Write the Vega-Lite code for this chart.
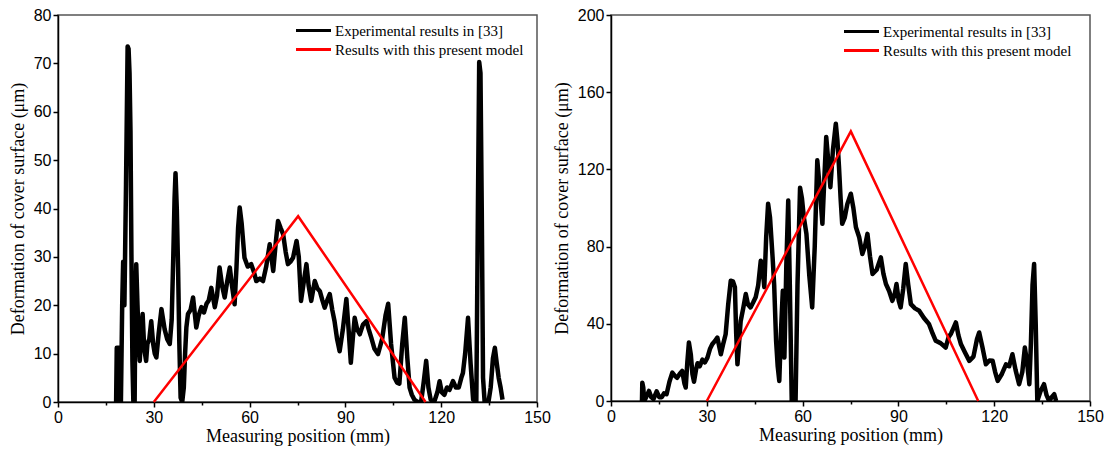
{
  "$schema": "https://vega.github.io/schema/vega-lite/v6.json",
  "padding": {"left": 8, "top": 6, "right": 5, "bottom": 5},
  "spacing": 0,
  "background": "white",
  "config": {
    "view": {"stroke": "#555", "strokeWidth": 1.5},
    "axis": {
      "labelFont": "Liberation Sans", "labelFontSize": 16, "labelColor": "#000",
      "titleFont": "Liberation Serif", "titleFontSize": 18, "titleFontWeight": "normal", "titleColor": "#000",
      "domainColor": "#000", "domainWidth": 1.5, "tickColor": "#000", "tickWidth": 1.5,
      "grid": false, "labelFlush": false, "labelOverlap": false, "labelPadding": 2
    },
    "legend": {
      "orient": "none", "title": null, "symbolType": "M-5,0H5", "symbolSize": 49, "symbolStrokeWidth": 3,
      "labelFont": "Liberation Serif", "labelFontSize": 15, "labelColor": "#000", "rowPadding": 3, "labelOffset": 14, "labelLimit": 0
    }
  },
  "datasets": {
    "exp1": [
      {"x":18.2,"y":0},{"x":18.4,"y":11.2},{"x":19.1,"y":11.2},{"x":19.3,"y":0},{"x":19.7,"y":0},{"x":20.1,"y":20},{"x":20.4,"y":29},{"x":20.8,"y":20},{"x":21.3,"y":45},{"x":21.8,"y":73.5},{"x":22.1,"y":73},{"x":22.4,"y":68},{"x":22.7,"y":56},{"x":23.0,"y":30},{"x":23.3,"y":8.5},{"x":23.6,"y":0},{"x":24.0,"y":0},{"x":24.2,"y":18},{"x":24.5,"y":28.5},{"x":24.9,"y":20},{"x":25.3,"y":12},{"x":25.6,"y":8.5},{"x":26.0,"y":14},{"x":26.5,"y":18.2},{"x":27.0,"y":11},{"x":27.6,"y":8.5},{"x":28.0,"y":12},{"x":28.6,"y":13},{"x":29.2,"y":16.7},{"x":29.8,"y":12},{"x":30.3,"y":10},{"x":30.8,"y":9.2},{"x":31.5,"y":14},{"x":32.4,"y":19.2},{"x":33.4,"y":15},{"x":34.2,"y":13},{"x":35.0,"y":12},{"x":35.6,"y":17},{"x":36.1,"y":30},{"x":36.5,"y":42},{"x":36.8,"y":47.3},{"x":37.2,"y":40},{"x":37.6,"y":27.8},{"x":38.0,"y":12},{"x":38.4,"y":0.9},{"x":38.9,"y":0},{"x":39.4,"y":3},{"x":39.8,"y":10},{"x":40.2,"y":15.4},{"x":40.7,"y":18.2},{"x":41.5,"y":19},{"x":42.3,"y":21.6},{"x":43.3,"y":15.4},{"x":44.1,"y":18},{"x":44.9,"y":19.6},{"x":45.7,"y":18.5},{"x":46.5,"y":20.3},{"x":47.2,"y":21},{"x":48.0,"y":23.6},{"x":49.1,"y":19.6},{"x":49.8,"y":22},{"x":50.6,"y":27.8},{"x":51.4,"y":24},{"x":52.2,"y":21.6},{"x":53.0,"y":25},{"x":53.8,"y":27.8},{"x":54.5,"y":24},{"x":55.3,"y":20.2},{"x":55.9,"y":28},{"x":56.4,"y":36},{"x":56.9,"y":40.2},{"x":57.5,"y":37},{"x":58.0,"y":33},{"x":58.4,"y":29.8},{"x":59.4,"y":28},{"x":60.5,"y":28.5},{"x":61.3,"y":27},{"x":62.1,"y":25},{"x":63.2,"y":25.5},{"x":64.2,"y":25},{"x":65.2,"y":28},{"x":66.3,"y":32.6},{"x":67.4,"y":27.1},{"x":68.2,"y":33},{"x":68.9,"y":37.4},{"x":69.7,"y":36},{"x":70.5,"y":34.7},{"x":71.3,"y":31},{"x":72.0,"y":28.5},{"x":72.8,"y":29},{"x":73.6,"y":29.8},{"x":74.7,"y":33.3},{"x":75.4,"y":30},{"x":76.1,"y":20.9},{"x":77.0,"y":25},{"x":77.8,"y":28.5},{"x":78.5,"y":24},{"x":79.3,"y":20.9},{"x":80.4,"y":25},{"x":81.2,"y":23.5},{"x":82.0,"y":22.9},{"x":82.8,"y":21},{"x":83.5,"y":19.5},{"x":84.3,"y":21},{"x":85.1,"y":22.3},{"x":85.9,"y":19},{"x":86.6,"y":16.7},{"x":87.4,"y":13},{"x":88.2,"y":10.5},{"x":89.2,"y":15},{"x":90.3,"y":21.3},{"x":91.0,"y":15},{"x":91.7,"y":8.1},{"x":92.3,"y":13},{"x":92.9,"y":17.4},{"x":93.7,"y":15},{"x":94.5,"y":14},{"x":95.5,"y":16},{"x":96.6,"y":16.7},{"x":97.3,"y":15},{"x":98.1,"y":13.3},{"x":99.1,"y":11},{"x":100.2,"y":9.9},{"x":101.5,"y":13},{"x":102.6,"y":18},{"x":103.4,"y":20.3},{"x":104.3,"y":12},{"x":105.4,"y":5},{"x":106.2,"y":4},{"x":106.9,"y":3.8},{"x":107.8,"y":12},{"x":108.6,"y":17.4},{"x":109.4,"y":9},{"x":110.1,"y":3},{"x":110.8,"y":1.5},{"x":111.6,"y":0.5},{"x":112.6,"y":0},{"x":113.7,"y":0},{"x":114.5,"y":4},{"x":115.3,"y":8.5},{"x":116.0,"y":3},{"x":116.7,"y":0.5},{"x":117.8,"y":0},{"x":118.8,"y":2},{"x":119.5,"y":4.3},{"x":120.2,"y":2},{"x":121.0,"y":1.5},{"x":121.8,"y":3},{"x":122.6,"y":2.5},{"x":123.7,"y":4.3},{"x":124.6,"y":3},{"x":125.5,"y":3},{"x":126.3,"y":5},{"x":126.8,"y":6},{"x":127.5,"y":10},{"x":128.4,"y":17.4},{"x":129.2,"y":8},{"x":130.0,"y":0.5},{"x":131.0,"y":0},{"x":131.5,"y":40},{"x":131.9,"y":70.3},{"x":132.3,"y":68},{"x":132.7,"y":40},{"x":133.1,"y":5},{"x":133.6,"y":0},{"x":134.8,"y":0},{"x":135.5,"y":3},{"x":136.2,"y":9},{"x":136.8,"y":11.2},{"x":137.4,"y":8},{"x":138.0,"y":5},{"x":138.6,"y":3},{"x":139.2,"y":0.5}
    ],
    "model1": [{"x":30,"y":0},{"x":75.2,"y":38.4},{"x":115.1,"y":0}],
    "exp2": [
      {"x":9.7,"y":0},{"x":9.8,"y":9.5},{"x":10.1,"y":7},{"x":10.4,"y":0},{"x":11.0,"y":2},{"x":11.9,"y":5.2},{"x":12.6,"y":2},{"x":13.3,"y":1},{"x":14.3,"y":5},{"x":15.1,"y":2},{"x":15.9,"y":2},{"x":16.6,"y":4},{"x":17.4,"y":3.5},{"x":18.3,"y":10},{"x":19.2,"y":14.7},{"x":20.0,"y":13},{"x":20.7,"y":12},{"x":21.5,"y":14},{"x":22.3,"y":15.6},{"x":23.0,"y":9},{"x":23.4,"y":7},{"x":23.9,"y":20},{"x":24.4,"y":30.3},{"x":25.0,"y":24},{"x":25.5,"y":14},{"x":26.0,"y":10},{"x":26.6,"y":16},{"x":27.1,"y":19.6},{"x":27.8,"y":18},{"x":28.6,"y":21.4},{"x":29.4,"y":20},{"x":30.2,"y":22.5},{"x":31.0,"y":27},{"x":31.7,"y":29.4},{"x":32.5,"y":31},{"x":33.3,"y":32.9},{"x":34.4,"y":24.2},{"x":35.2,"y":30},{"x":35.9,"y":34.6},{"x":36.7,"y":50},{"x":37.5,"y":62.3},{"x":38.2,"y":62},{"x":38.8,"y":59},{"x":39.2,"y":35},{"x":39.6,"y":19},{"x":40.1,"y":30},{"x":40.6,"y":41.3},{"x":41.4,"y":48},{"x":42.2,"y":55.4},{"x":42.9,"y":50},{"x":43.7,"y":48.5},{"x":44.5,"y":51},{"x":45.3,"y":53.7},{"x":46.1,"y":60},{"x":46.9,"y":72.7},{"x":47.5,"y":68},{"x":48.0,"y":59},{"x":48.6,"y":85},{"x":49.2,"y":102.2},{"x":49.8,"y":95},{"x":50.6,"y":74.5},{"x":51.1,"y":60},{"x":51.7,"y":31.2},{"x":52.2,"y":18},{"x":52.7,"y":10.4},{"x":53.2,"y":35},{"x":53.8,"y":57.1},{"x":54.3,"y":22.5},{"x":54.9,"y":70},{"x":55.5,"y":103.9},{"x":56.0,"y":60},{"x":56.6,"y":0},{"x":57.2,"y":2},{"x":57.8,"y":0},{"x":58.4,"y":60},{"x":59.2,"y":110.5},{"x":59.8,"y":105},{"x":60.4,"y":95},{"x":61.2,"y":86.6},{"x":62.1,"y":65},{"x":63.0,"y":48.5},{"x":63.8,"y":80},{"x":64.6,"y":124.7},{"x":65.4,"y":110},{"x":66.2,"y":91.8},{"x":66.8,"y":115},{"x":67.4,"y":136.8},{"x":68.0,"y":125},{"x":68.7,"y":110.8},{"x":69.5,"y":130},{"x":70.4,"y":143.7},{"x":70.9,"y":135},{"x":71.4,"y":121.2},{"x":71.9,"y":105},{"x":72.4,"y":91.8},{"x":73.2,"y":95},{"x":74.0,"y":102},{"x":75.1,"y":107.4},{"x":75.9,"y":100},{"x":76.7,"y":90},{"x":77.7,"y":85},{"x":78.7,"y":76.2},{"x":79.5,"y":80},{"x":80.3,"y":86.6},{"x":81.1,"y":75},{"x":81.9,"y":65.8},{"x":83.2,"y":68},{"x":84.5,"y":74.4},{"x":85.3,"y":66},{"x":86.1,"y":60.6},{"x":87.1,"y":57},{"x":88.1,"y":51.9},{"x":88.8,"y":55},{"x":89.4,"y":60.6},{"x":90.1,"y":52},{"x":90.7,"y":48.5},{"x":91.5,"y":58},{"x":92.3,"y":71},{"x":93.1,"y":60},{"x":93.9,"y":50.2},{"x":95.2,"y":48},{"x":96.5,"y":46.8},{"x":98.0,"y":43},{"x":99.6,"y":39.8},{"x":100.7,"y":35},{"x":101.7,"y":31.2},{"x":103.2,"y":30},{"x":104.8,"y":27.7},{"x":105.7,"y":33},{"x":106.5,"y":35},{"x":107.3,"y":38},{"x":108.0,"y":40.7},{"x":108.8,"y":34},{"x":109.6,"y":29.4},{"x":110.9,"y":25},{"x":112.2,"y":20.8},{"x":113.5,"y":23},{"x":114.6,"y":32},{"x":115.3,"y":35.5},{"x":116.3,"y":28},{"x":117.4,"y":19},{"x":118.5,"y":21},{"x":119.5,"y":20.8},{"x":120.3,"y":15},{"x":121.1,"y":10.4},{"x":122.4,"y":14},{"x":123.7,"y":19},{"x":124.7,"y":18},{"x":125.7,"y":24.2},{"x":126.7,"y":16},{"x":127.8,"y":8.7},{"x":128.8,"y":15},{"x":129.6,"y":27.7},{"x":130.3,"y":20},{"x":131.0,"y":8.7},{"x":131.5,"y":30},{"x":132.0,"y":60},{"x":132.5,"y":71},{"x":133.0,"y":40},{"x":133.5,"y":0},{"x":134.5,"y":5},{"x":135.6,"y":8.7},{"x":136.4,"y":3},{"x":137.2,"y":0},{"x":138.0,"y":2},{"x":138.8,"y":3.5},{"x":139.4,"y":0}
    ],
    "model2": [{"x":30,"y":0},{"x":75.1,"y":139.7},{"x":115,"y":0}]
  },
  "hconcat": [
    {
      "width": 479, "height": 387,
      "layer": [
        {
          "data": {"name": "exp1"},
          "mark": {"type": "line", "strokeWidth": 4.5, "strokeJoin": "round", "clip": true},
          "encoding": {
            "x": {"field": "x", "type": "quantitative", "title": "Measuring position (mm)",
              "scale": {"domain": [0, 150], "nice": false},
              "axis": {"values": [0,15,30,45,60,75,90,105,120,135,150], "labelExpr": "datum.value % 30 === 0 ? datum.label : ''",
                "tickSize": {"condition": {"test": "datum.value % 30 === 0", "value": 5}, "value": 3}, "titlePadding": 2}},
            "y": {"field": "y", "type": "quantitative", "title": "Deformation of cover surface (μm)",
              "scale": {"domain": [0, 80], "nice": false},
              "axis": {"values": [0,5,10,15,20,25,30,35,40,45,50,55,60,65,70,75,80], "labelExpr": "datum.value % 10 === 0 ? datum.label : ''",
                "tickSize": {"condition": {"test": "datum.value % 10 === 0", "value": 5}, "value": 3}, "titlePadding": 6}},
            "color": {"datum": "Experimental results in [33]",
              "scale": {"domain": ["Experimental results in [33]", "Results with this present model"], "range": ["#000000", "#ff0000"]},
              "legend": {"legendX": 248, "legendY": 8}}
          }
        },
        {
          "data": {"name": "model1"},
          "mark": {"type": "line", "strokeWidth": 2.5},
          "encoding": {
            "x": {"field": "x", "type": "quantitative"},
            "y": {"field": "y", "type": "quantitative"},
            "color": {"datum": "Results with this present model"}
          }
        }
      ]
    },
    {
      "width": 479, "height": 386,
      "layer": [
        {
          "data": {"name": "exp2"},
          "mark": {"type": "line", "strokeWidth": 4.5, "strokeJoin": "round", "clip": true},
          "encoding": {
            "x": {"field": "x", "type": "quantitative", "title": "Measuring position (mm)",
              "scale": {"domain": [0, 150], "nice": false},
              "axis": {"values": [0,15,30,45,60,75,90,105,120,135,150], "labelExpr": "datum.value % 30 === 0 ? datum.label : ''",
                "tickSize": {"condition": {"test": "datum.value % 30 === 0", "value": 5}, "value": 3}, "titlePadding": 2}},
            "y": {"field": "y", "type": "quantitative", "title": "Deformation of cover surface (μm)",
              "scale": {"domain": [0, 200], "nice": false},
              "axis": {"values": [0,20,40,60,80,100,120,140,160,180,200], "labelExpr": "datum.value % 40 === 0 ? datum.label : ''",
                "tickSize": {"condition": {"test": "datum.value % 40 === 0", "value": 5}, "value": 3}, "titlePadding": 6}},
            "color": {"datum": "Experimental results in [33]",
              "scale": {"domain": ["Experimental results in [33]", "Results with this present model"], "range": ["#000000", "#ff0000"]},
              "legend": {"legendX": 243, "legendY": 9}}
          }
        },
        {
          "data": {"name": "model2"},
          "mark": {"type": "line", "strokeWidth": 2.5},
          "encoding": {
            "x": {"field": "x", "type": "quantitative"},
            "y": {"field": "y", "type": "quantitative"},
            "color": {"datum": "Results with this present model"}
          }
        }
      ]
    }
  ],
  "resolve": {"scale": {"color": "independent", "x": "independent", "y": "independent"}, "legend": {"color": "independent"}}
}
